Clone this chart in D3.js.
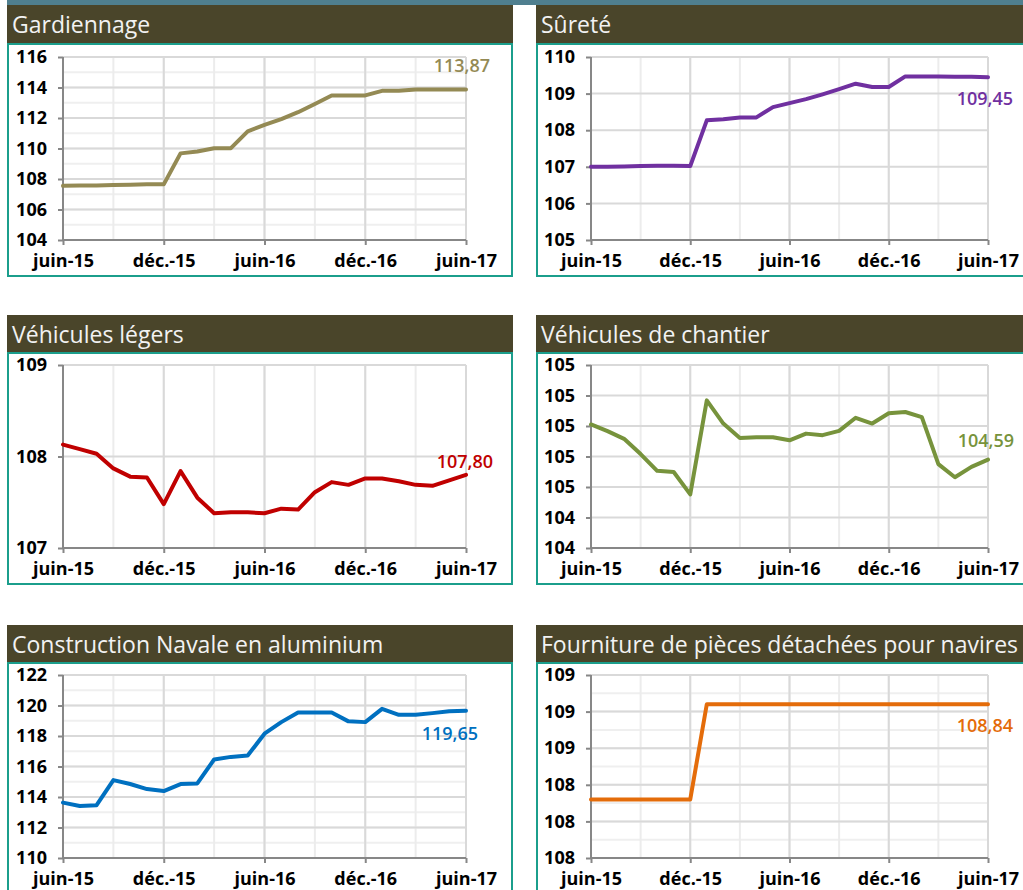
<!DOCTYPE html>
<html>
<head>
<meta charset="utf-8">
<script src="https://cdn.jsdelivr.net/npm/d3@7"></script>
<style>
  html, body { margin: 0; padding: 0; background: #ffffff; }
  svg { display: block; }
</style>
</head>
<body>
<svg id="chart" width="1023" height="890"></svg>
<script>
// ---------- DATA ----------
const monthCount = 25; // juin-15 .. juin-17, monthly
const xTickIndex = [0, 6, 12, 18, 24];
const xTickLabels = ["juin-15", "déc.-15", "juin-16", "déc.-16", "juin-17"];

const titles = [
  "Gardiennage",
  "Sûreté",
  "Véhicules légers",
  "Véhicules de chantier",
  "Construction Navale en aluminium",
  "Fourniture de pièces détachées pour navires"
];

const gardiennage = [107.55, 107.57, 107.58, 107.60, 107.63, 107.65, 107.65, 109.68, 109.80, 110.02, 110.02, 111.12, 111.55,
  111.93, 112.38, 112.92, 113.48, 113.48, 113.48, 113.78, 113.78, 113.87, 113.87, 113.87, 113.87];
const surete = [107.00, 107.00, 107.01, 107.02, 107.03, 107.03, 107.02, 108.27, 108.30, 108.35, 108.35, 108.63, 108.74,
  108.85, 108.98, 109.12, 109.27, 109.18, 109.18, 109.47, 109.47, 109.47, 109.46, 109.46, 109.45];
const vehiculesLegers = [108.13, 108.08, 108.03, 107.87, 107.78, 107.77, 107.48, 107.84, 107.55, 107.38, 107.39, 107.39, 107.38,
  107.43, 107.42, 107.61, 107.72, 107.69, 107.76, 107.76, 107.73, 107.69, 107.68, 107.74, 107.80];
const vehiculesChantier = [104.705, 104.683, 104.658, 104.608, 104.553, 104.549, 104.476, 104.784, 104.708, 104.661, 104.663, 104.663, 104.653,
  104.675, 104.670, 104.684, 104.727, 104.708, 104.742, 104.746, 104.729, 104.575, 104.532, 104.566, 104.59];
const constructionNavale = [113.63, 113.41, 113.46, 115.11, 114.85, 114.52, 114.39, 114.85, 114.89, 116.46, 116.63, 116.72, 118.15,
  118.91, 119.54, 119.54, 119.54, 118.96, 118.91, 119.78, 119.39, 119.39, 119.50, 119.63, 119.65];
const fourniturePieces = [108.32, 108.32, 108.32, 108.32, 108.32, 108.32, 108.32, 108.84, 108.84, 108.84, 108.84, 108.84, 108.84,
  108.84, 108.84, 108.84, 108.84, 108.84, 108.84, 108.84, 108.84, 108.84, 108.84, 108.84, 108.84];

const gardTicks = [104, 106, 108, 110, 112, 114, 116];
const gardTickLabels = ["104", "106", "108", "110", "112", "114", "116"];
const sureteTicks = [105, 106, 107, 108, 109, 110];
const sureteTickLabels = ["105", "106", "107", "108", "109", "110"];
const legersTicks = [107, 108, 109];
const legersTickLabels = ["107", "108", "109"];
const chantierTicks = [104.3, 104.4, 104.5, 104.6, 104.7, 104.8, 104.9];
const chantierTickLabels = ["104", "104", "105", "105", "105", "105", "105"];
const navaleTicks = [110, 112, 114, 116, 118, 120, 122];
const navaleTickLabels = ["110", "112", "114", "116", "118", "120", "122"];
const fournTicks = [108.0, 108.2, 108.4, 108.6, 108.8, 109.0];
const fournTickLabels = ["108", "108", "108", "109", "109", "109"];

// minor gridline step (0 = none)
const minorSteps = [1, 0, 0, 0, 1, 0.1];

const lineColors = ["#948a54", "#7030a0", "#c00000", "#77933c", "#0070c0", "#e46c0a"];

// ---------- LAYOUT ----------
const svg = d3.select("#chart");
const frDecimal = d3.formatLocale({ decimal: ",", thousands: " ", grouping: [3], currency: ["", " €"] }).format(".2f");

const cols = [
  { x0: 7, x1: 513, plotL: 63, plotR: 466, titleX: 12 },
  { x0: 536, x1: 1030, plotL: 591, plotR: 988, titleX: 541 }
];
const rows = [
  { hTop: 5, hBot: 43, plotT: 57, plotB: 240, bBot: 277 },
  { hTop: 315, hBot: 352, plotT: 365, plotB: 548, bBot: 585 },
  { hTop: 625, hBot: 662, plotT: 675, plotB: 858, bBot: 895 }
];
// value-label offsets relative to last point (baseline)
const labelOffsets = [
  { dx: 24, dy: -17 }, { dx: 25, dy: 28 },
  { dx: 27, dy: -7 }, { dx: 26, dy: -13 },
  { dx: 12, dy: 29 }, { dx: 25, dy: 28 }
];

const panels = [
  { values: gardiennage, ticks: gardTicks, labels: gardTickLabels },
  { values: surete, ticks: sureteTicks, labels: sureteTickLabels },
  { values: vehiculesLegers, ticks: legersTicks, labels: legersTickLabels },
  { values: vehiculesChantier, ticks: chantierTicks, labels: chantierTickLabels },
  { values: constructionNavale, ticks: navaleTicks, labels: navaleTickLabels },
  { values: fourniturePieces, ticks: fournTicks, labels: fournTickLabels }
];

// top strip
svg.append("rect").attr("x", 7).attr("y", 0).attr("width", 1016).attr("height", 5).attr("fill", "#4f7f8f");

const titleFont = "'Open Sans', sans-serif";
const tickFont = "'Open Sans', sans-serif";

panels.forEach((p, i) => {
  const c = cols[i % 2];
  const r = rows[Math.floor(i / 2)];
  const g = svg.append("g");

  // header
  g.append("rect").attr("x", c.x0).attr("y", r.hTop).attr("width", c.x1 - c.x0).attr("height", r.hBot - r.hTop)
    .attr("fill", "#4a452a");
  g.append("text").attr("x", c.titleX).attr("y", r.hTop + 28)
    .attr("font-family", titleFont).attr("font-size", 23).attr("fill", "#f2f2f2")
    .text(titles[i]);

  // border
  g.append("rect").attr("x", c.x0 + 1).attr("y", r.hBot + 1).attr("width", c.x1 - c.x0 - 2).attr("height", r.bBot - r.hBot - 2)
    .attr("fill", "#ffffff").attr("stroke", "#1b9e8c").attr("stroke-width", 2);

  const x = d3.scaleLinear().domain([0, monthCount - 1]).range([c.plotL, c.plotR]);
  const y = d3.scaleLinear().domain([p.ticks[0], p.ticks[p.ticks.length - 1]]).range([r.plotB, r.plotT]);

  // minor horizontal gridlines
  if (minorSteps[i] > 0) {
    const lo = p.ticks[0], hi = p.ticks[p.ticks.length - 1];
    const n = Math.round((hi - lo) / minorSteps[i]);
    const minor = d3.range(n + 1).map(k => lo + k * minorSteps[i]);
    g.append("g").selectAll("line").data(minor).join("line")
      .attr("x1", c.plotL).attr("x2", c.plotR)
      .attr("y1", d => y(d)).attr("y2", d => y(d))
      .attr("stroke", "#efefef").attr("stroke-width", 2);
  }
  // minor vertical gridlines (every 3 months)
  g.append("g").selectAll("line").data(d3.range(0, monthCount, 3)).join("line")
    .attr("x1", d => x(d)).attr("x2", d => x(d))
    .attr("y1", r.plotT).attr("y2", r.plotB)
    .attr("stroke", "#ececec").attr("stroke-width", 2);
  // major vertical gridlines
  g.append("g").selectAll("line").data(xTickIndex).join("line")
    .attr("x1", d => x(d)).attr("x2", d => x(d))
    .attr("y1", r.plotT).attr("y2", r.plotB)
    .attr("stroke", "#d9d9d9").attr("stroke-width", 2);
  // major horizontal gridlines
  g.append("g").selectAll("line").data(p.ticks).join("line")
    .attr("x1", c.plotL).attr("x2", c.plotR)
    .attr("y1", d => y(d)).attr("y2", d => y(d))
    .attr("stroke", "#d9d9d9").attr("stroke-width", 2);

  // axes
  const yAxis = d3.axisLeft(y).tickValues(p.ticks).tickFormat((d, k) => p.labels[k]).tickSize(5).tickPadding(11);
  const gy = g.append("g").attr("transform", `translate(${c.plotL},0)`).call(yAxis);
  const xAxis = d3.axisBottom(x).tickValues(xTickIndex).tickFormat((d, k) => xTickLabels[k]).tickSize(5).tickPadding(9);
  const gx = g.append("g").attr("transform", `translate(0,${r.plotB})`).call(xAxis);
  [gx, gy].forEach(a => {
    a.select(".domain").attr("stroke", "#878787").attr("stroke-width", 2);
    a.selectAll(".tick line").attr("stroke", "#878787").attr("stroke-width", 2);
    a.selectAll(".tick text").attr("fill", "#000000").attr("font-family", tickFont)
      .attr("font-weight", 700).attr("font-size", 18);
  });
  gy.select(".domain").attr("d", `M0,${r.plotT}V${r.plotB}`);
  gx.select(".domain").attr("d", `M${c.plotL},0H${c.plotR}`);

  // line
  const line = d3.line().x((d, k) => x(k)).y(d => y(d));
  g.append("path").datum(p.values).attr("d", line)
    .attr("fill", "none").attr("stroke", lineColors[i]).attr("stroke-width", 4)
    .attr("stroke-linejoin", "round").attr("stroke-linecap", "round");

  // value label
  const last = p.values.length - 1;
  g.append("text")
    .attr("x", x(last) + labelOffsets[i].dx).attr("y", y(p.values[last]) + labelOffsets[i].dy)
    .attr("text-anchor", "end").attr("font-family", tickFont).attr("font-weight", 600).attr("font-size", 18)
    .attr("fill", lineColors[i])
    .text(frDecimal(p.values[last]));
});
</script>
</body>
</html>
